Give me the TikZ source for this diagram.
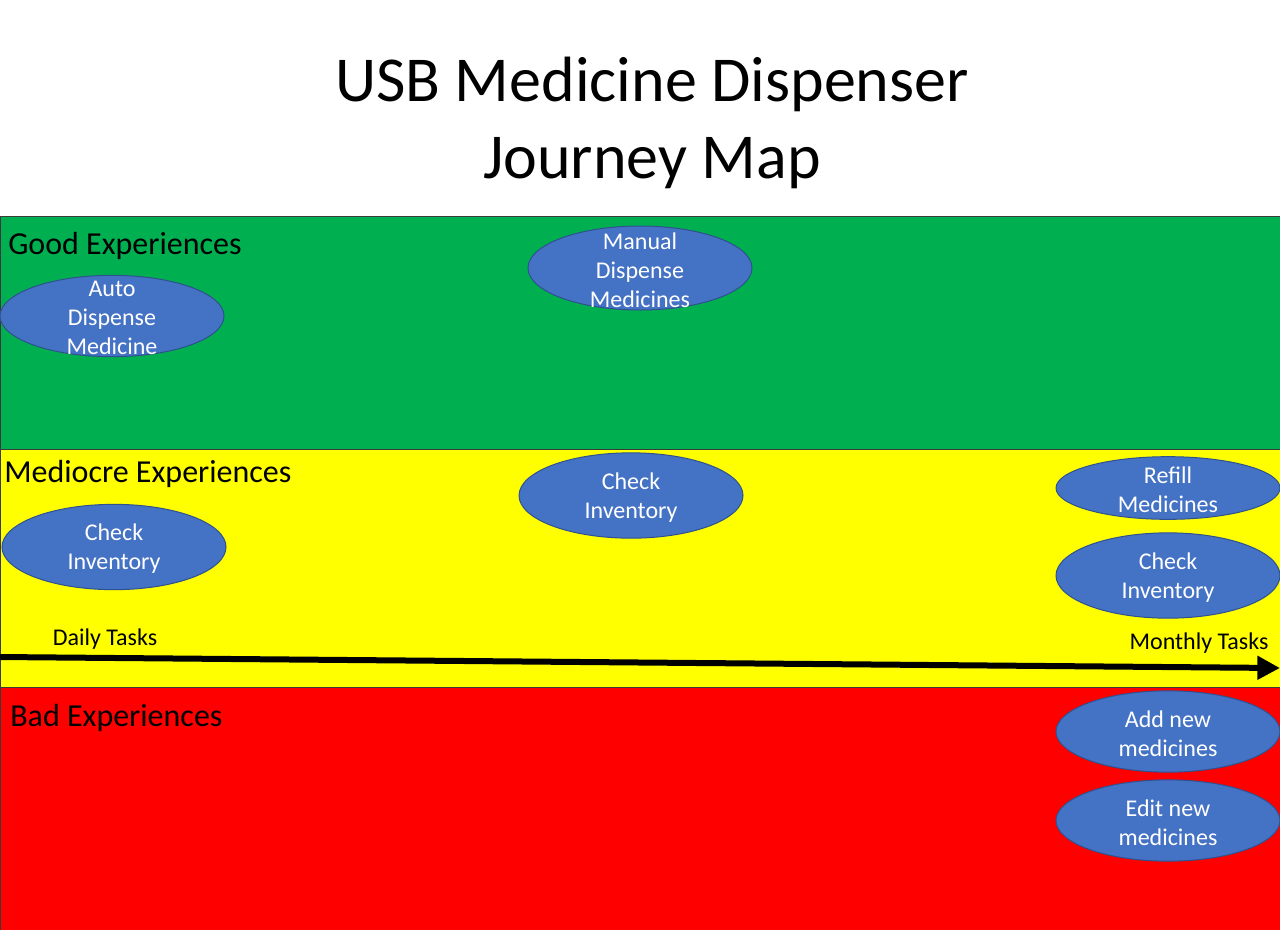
\documentclass[tikz,border=0pt]{standalone}
\usepackage{fontspec}
\setmainfont{Carlito}
\usetikzlibrary{shapes.geometric,arrows.meta}
\definecolor{goodbg}{HTML}{00B050}
\definecolor{midbg}{HTML}{FFFF00}
\definecolor{badbg}{HTML}{FF0000}
\definecolor{blobfill}{HTML}{4472C4}
\definecolor{blobline}{HTML}{2F528F}
\definecolor{bandline}{HTML}{3A3A3A}
\tikzset{
  band/.style={draw=bandline, line width=0.75pt},
  blob/.style={ellipse, draw=blobline, fill=blobfill, line width=0.75pt,
    minimum width=168pt, inner sep=0pt},
  blobtxt/.style={text=white, align=center, inner sep=0pt, yshift=-1.5pt,
    font={\fontsize{18pt}{21.75pt}\selectfont}},
  bandlabel/.style={anchor=west, inner sep=0pt, font={\fontsize{24pt}{29pt}\selectfont}},
  tasklabel/.style={inner sep=0pt, font={\fontsize{18pt}{21.75pt}\selectfont}},
  titletxt/.style={align=center, inner sep=0pt, font={\fontsize{48pt}{57.75pt}\selectfont}},
  timeline/.style={line width=4.5pt, -{Triangle[length=17pt,width=17pt]}}
}
\begin{document}
\begin{tikzpicture}[x=0.75pt,y=-0.75pt]
\useasboundingbox (0,0) rectangle (1280,929);
\fill[white] (0,0) rectangle (1280,929);
% bands
\filldraw[band, fill=goodbg] (0,216) rectangle (1281,449);
\filldraw[band, fill=midbg] (0,449) rectangle (1281,687);
\filldraw[band, fill=badbg] (0,687) rectangle (1281,930);
% title
\node[titletxt] (title) at (652,122.5) {USB Medicine Dispenser\\Journey Map};
% band labels
\node[bandlabel] (good) at (8,246) {Good Experiences};
\node[bandlabel] (mid) at (4,474) {Mediocre Experiences};
\node[bandlabel] (bad) at (10,718) {Bad Experiences};
% ellipses
\node[blob, minimum height=61pt] (auto) at (112,316) {};
\node[blobtxt] (autot) at (auto) {Auto\\Dispense\\Medicine};
\node[blob, minimum height=63pt] (manual) at (640,268) {};
\node[blobtxt] (manualt) at (manual) {Manual\\Dispense\\Medicines};
\node[blob, minimum height=64pt] (chkl) at (114,547) {};
\node[blobtxt] (chklt) at (chkl) {Check\\Inventory};
\node[blob, minimum height=64pt] (chkm) at (631,495.5) {};
\node[blobtxt] (chkmt) at (chkm) {Check\\Inventory};
\node[blob, minimum height=47pt] (refill) at (1168,488) {};
\node[blobtxt] (refillt) at (refill) {Refill\\Medicines};
\node[blob, minimum height=64pt] (chkr) at (1168,575.5) {};
\node[blobtxt] (chkrt) at (chkr) {Check\\Inventory};
\node[blob, minimum height=61pt] (add) at (1168,731.5) {};
\node[blobtxt] (addt) at (add) {Add new\\medicines};
\node[blob, minimum height=61pt] (edit) at (1168,820.5) {};
\node[blobtxt] (editt) at (edit) {Edit new\\medicines};
% timeline
\coordinate (tstart) at (0,657);
\coordinate (tend) at (1280,668);
\draw[timeline] (tstart) -- (tend);
\node[tasklabel] (daily) at (105,639) {Daily Tasks};
\node[tasklabel] (monthly) at (1199,643) {Monthly Tasks};
\end{tikzpicture}
\end{document}
